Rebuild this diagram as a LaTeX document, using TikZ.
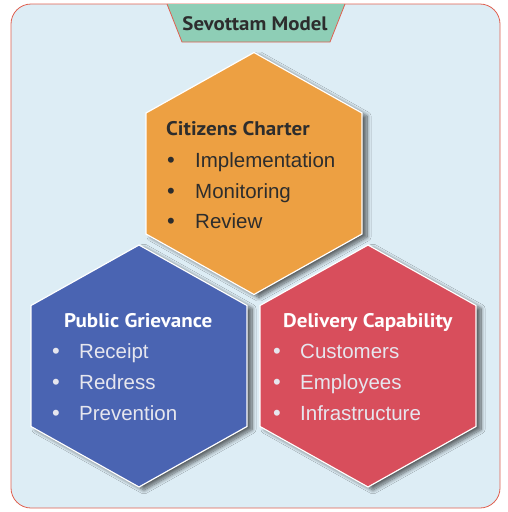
\documentclass[tikz,border=0pt]{standalone}
\usepackage{fontspec}
\setmainfont{Liberation Sans}
\newfontfamily\titlefont[FakeStretch=1.07]{PT Sans}
\usetikzlibrary{shadows.blur}
\definecolor{bgblue}{RGB}{221,237,245}
\definecolor{framered}{RGB}{224,96,80}
\definecolor{hexorange}{RGB}{237,160,66}
\definecolor{hexblue}{RGB}{74,100,178}
\definecolor{hexred}{RGB}{216,78,92}
\definecolor{titlegreen}{RGB}{142,206,182}
\definecolor{darktext}{RGB}{45,45,45}
\definecolor{lighttext}{RGB}{230,230,238}
\newcommand\hexat[3]{%
  \fill[#3, draw=white, line width=1.2pt,
    blur shadow={shadow xshift=5pt, shadow yshift=-3pt, shadow opacity=60, shadow blur steps=10, shadow blur radius=4pt}]
  (#1,#2-121) -- (#1+108,#2-60.5) -- (#1+108,#2+60.5) -- (#1,#2+121)
  -- (#1-108,#2+60.5) -- (#1-108,#2-60.5) -- cycle;}
\begin{document}
\begin{tikzpicture}[x=1pt,y=-1pt,
  hextitle/.style={font=\titlefont\bfseries\fontsize{19.7}{19.7}\selectfont, anchor=base west, inner sep=0pt},
  item/.style={font=\fontsize{20.5}{20.5}\selectfont, anchor=base west, inner sep=0pt},
  bul/.style={font=\fontsize{22}{22}\selectfont, anchor=base, inner sep=0pt}]
\useasboundingbox (0,0) rectangle (507,512);
\draw[fill=bgblue, draw=framered, line width=0.8pt, rounded corners=20pt] (11,4) rectangle (500,508);
\hexat{254}{173.5}{hexorange}
\hexat{139}{366}{hexblue}
\hexat{368}{366}{hexred}
% title tab
\fill[titlegreen] (167,4) -- (182,42) -- (330,42) -- (345,4) -- cycle;
\draw[framered, line width=0.8pt] (167,4) -- (182,42) -- (330,42) -- (345,4);
\node[font=\titlefont\bfseries\fontsize{19.5}{19.5}\selectfont, text=darktext, anchor=base, inner sep=0pt] (title) at (255,30) {Sevottam Model};
% Citizens Charter
\node[hextitle, text=darktext] (cc) at (166,135) {Citizens Charter};
\node[bul, text=darktext] (cb1) at (171,167) {•};
\node[bul, text=darktext] (cb2) at (171,198) {•};
\node[bul, text=darktext] (cb3) at (171,228) {•};
\node[item, text=darktext] (ci1) at (195,167) {Implementation};
\node[item, text=darktext] (ci2) at (195,198) {Monitoring};
\node[item, text=darktext] (ci3) at (195,228) {Review};
% Public Grievance
\node[hextitle, text=white] (pg) at (64,327) {Public Grievance};
\node[bul, text=lighttext] (pb1) at (56,358) {•};
\node[bul, text=lighttext] (pb2) at (56,389) {•};
\node[bul, text=lighttext] (pb3) at (56,420) {•};
\node[item, text=lighttext] (pi1) at (79,358) {Receipt};
\node[item, text=lighttext] (pi2) at (79,389) {Redress};
\node[item, text=lighttext] (pi3) at (79,420) {Prevention};
% Delivery Capability
\node[hextitle, text=white] (dc) at (283,327) {Delivery Capability};
\node[bul, text=lighttext] (db1) at (277,358) {•};
\node[bul, text=lighttext] (db2) at (277,389) {•};
\node[bul, text=lighttext] (db3) at (277,420) {•};
\node[item, text=lighttext] (di1) at (300,358) {Customers};
\node[item, text=lighttext] (di2) at (300,389) {Employees};
\node[item, text=lighttext] (di3) at (300,420) {Infrastructure};
\end{tikzpicture}
\end{document}
